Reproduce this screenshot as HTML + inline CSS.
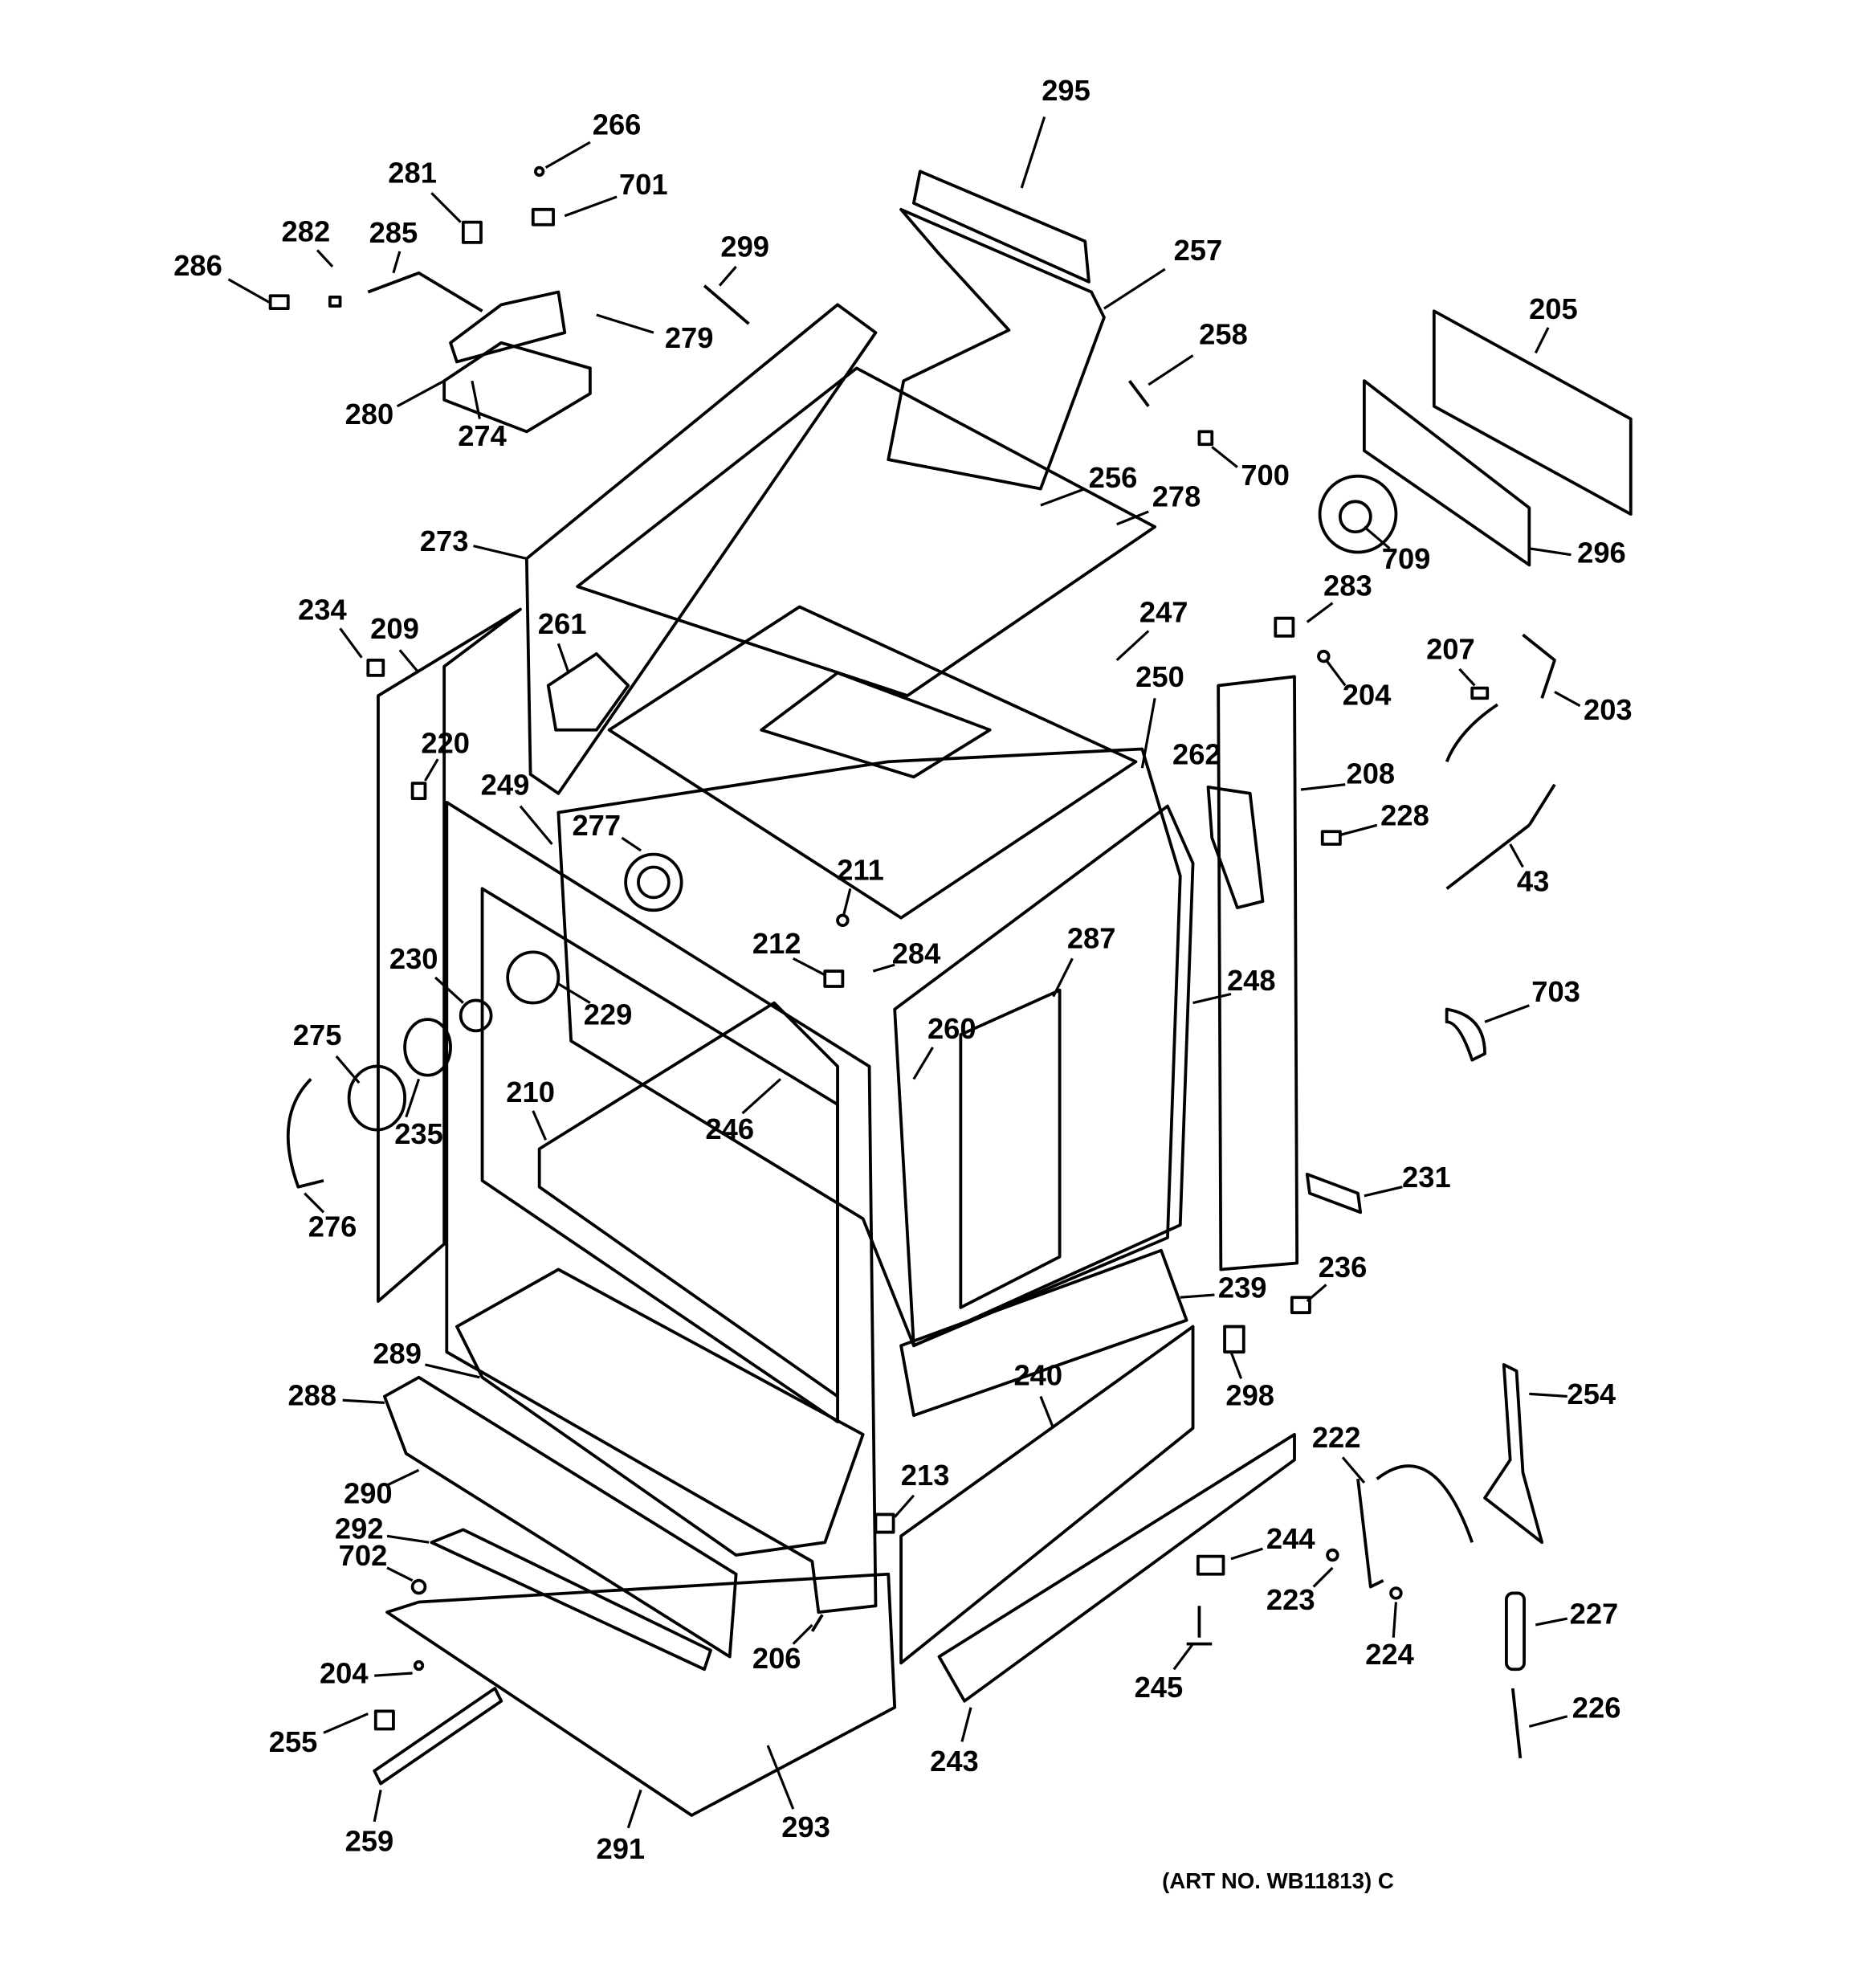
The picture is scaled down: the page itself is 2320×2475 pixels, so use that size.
<!DOCTYPE html>
<html><head><style>
html,body{margin:0;padding:0;background:#fff}
svg{display:block}
text{font-family:"Liberation Sans",Arial,sans-serif;font-weight:bold;font-size:23px;fill:#000;text-anchor:middle;dominant-baseline:middle}
.p{fill:none;stroke:#000;stroke-width:2.4;stroke-linejoin:round}
.l{stroke:#000;stroke-width:2}
</style></head><body>
<svg width="2320" height="2475" viewBox="0 0 1468 1566" xmlns="http://www.w3.org/2000/svg">
<polygon class="p" points="725,135 855,190 858,222 720,160"/>
<polygon class="p" points="710,165 860,230 870,250 820,385 700,362 712,300 795,260 740,200"/>
<polygon class="p" points="415,440 660,240 690,262 440,625 418,610"/>
<polygon class="p" points="455,462 675,290 910,415 715,548"/>
<polygon class="p" points="480,575 630,478 895,600 710,723"/>
<polygon class="p" points="600,575 660,530 780,575 720,612"/>
<polygon class="p" points="440,640 700,600 900,590 930,690 920,975 720,1060 680,960 450,820"/>
<polygon class="p" points="705,795 920,635 940,680 930,965 720,1060"/>
<polygon class="p" points="757,815 835,780 835,990 757,1030"/>
<polygon class="p" points="352,632 685,840 690,1265 645,1270 640,1230 352,1065"/>
<polygon class="p" points="380,700 660,870 660,1120 380,930"/>
<polygon class="p" points="425,905 610,790 660,840 660,1100 425,935"/>
<polygon class="p" points="960,540 1020,533 1022,995 962,1000"/>
<polygon class="p" points="298,548 410,480 350,525 350,980 298,1025"/>
<polygon class="p" points="360,1045 440,1000 680,1130 650,1215 580,1225 380,1085"/>
<polygon class="p" points="303,1100 330,1085 580,1240 575,1305 320,1145"/>
<polygon class="p" points="340,1215 365,1205 560,1300 555,1315"/>
<polygon class="p" points="305,1270 330,1262 700,1240 705,1345 545,1430"/>
<polygon class="p" points="710,1210 940,1045 940,1125 710,1310"/>
<polygon class="p" points="710,1060 915,985 935,1040 720,1115"/>
<polygon class="p" points="740,1305 1020,1130 1020,1150 760,1340"/>
<polygon class="p" points="295,1395 390,1330 395,1340 300,1405"/>
<polygon class="p" points="1130,245 1285,330 1285,405 1130,320"/>
<polygon class="p" points="1075,300 1205,400 1205,445 1075,355"/>
<circle class="p" cx="1070" cy="405" r="30"/><circle class="p" cx="1068" cy="407" r="12"/>
<circle class="p" cx="515" cy="695" r="22"/><circle class="p" cx="515" cy="695" r="12"/>
<circle class="p" cx="420" cy="770" r="20"/>
<circle class="p" cx="375" cy="800" r="12"/>
<ellipse class="p" cx="337" cy="825" rx="18" ry="22"/>
<ellipse class="p" cx="297" cy="865" rx="22" ry="25"/>
<path class="p" d="M245,850 Q215,880 235,935 L255,930"/>
<polygon class="p" points="952,620 985,625 995,710 975,715 955,660"/>
<polygon class="p" points="432,540 470,515 495,540 470,575 438,575"/>
<polygon class="p" points="355,270 395,240 440,230 445,262 360,285"/>
<polygon class="p" points="350,300 395,270 465,290 465,310 415,340 350,315"/>
<path class="p" d="M290,230 L330,215 L380,245"/>
<polygon class="p" points="1030,925 1070,940 1072,955 1032,940"/>
<path class="p" d="M1085,1165 Q1130,1130 1160,1215 M1070,1165 L1080,1250 L1090,1245"/>
<polygon class="p" points="1185,1075 1195,1080 1200,1160 1215,1215 1170,1180 1190,1150"/>
<rect class="p" x="1187" y="1255" width="14" height="60" rx="5"/>
<path class="p" d="M1192,1330 L1198,1385"/>
<path class="p" d="M1140,795 Q1170,800 1170,830 L1160,835 Q1150,805 1140,805 Z"/>
<path class="p" d="M1140,700 L1205,650 M1205,650 L1225,618"/>
<path class="p" d="M1200,500 L1225,520 L1215,550 M1180,555 Q1150,575 1140,600"/>
<rect class="p" x="213" y="233" width="14" height="10"/>
<rect class="p" x="260" y="234" width="8" height="7"/>
<rect class="p" x="365" y="175" width="14" height="16"/>
<rect class="p" x="420" y="165" width="16" height="12"/>
<circle class="p" cx="425" cy="135" r="3"/>
<path class="p" d="M555,225 L590,255"/>
<path class="p" d="M890,300 L905,320"/>
<rect class="p" x="945" y="340" width="10" height="10"/>
<rect class="p" x="1005" y="487" width="14" height="14"/>
<circle class="p" cx="1043" cy="517" r="4"/>
<rect class="p" x="1160" y="542" width="12" height="8"/>
<rect class="p" x="1042" y="655" width="14" height="10"/>
<rect class="p" x="290" y="520" width="12" height="12"/>
<rect class="p" x="325" y="617" width="10" height="12"/>
<rect class="p" x="965" y="1045" width="15" height="20"/>
<rect class="p" x="1018" y="1022" width="14" height="12"/>
<rect class="p" x="944" y="1226" width="20" height="14"/>
<path class="p" d="M945,1265 L945,1290 M935,1295 L955,1295"/>
<circle class="p" cx="1050" cy="1225" r="4"/><circle class="p" cx="1100" cy="1255" r="4"/>
<circle class="p" cx="330" cy="1250" r="5"/><circle class="p" cx="330" cy="1312" r="3"/>
<rect class="p" x="296" y="1348" width="14" height="14"/>
<rect class="p" x="690" y="1193" width="14" height="14"/>
<rect class="p" x="650" y="765" width="14" height="12"/>
<circle class="p" cx="664" cy="725" r="4"/>
<path class="p" d="M640,1285 L648,1272"/>
<g class="l">
<line x1="823" y1="92" x2="805" y2="148"/>
<line x1="465" y1="112" x2="430" y2="132"/>
<line x1="486" y1="155" x2="445" y2="170"/>
<line x1="340" y1="152" x2="363" y2="175"/>
<line x1="250" y1="197" x2="262" y2="210"/>
<line x1="315" y1="198" x2="310" y2="215"/>
<line x1="180" y1="220" x2="212" y2="238"/>
<line x1="580" y1="210" x2="567" y2="225"/>
<line x1="515" y1="262" x2="470" y2="248"/>
<line x1="313" y1="320" x2="350" y2="300"/>
<line x1="378" y1="330" x2="372" y2="300"/>
<line x1="918" y1="212" x2="870" y2="243"/>
<line x1="940" y1="280" x2="905" y2="303"/>
<line x1="975" y1="368" x2="955" y2="352"/>
<line x1="1220" y1="258" x2="1210" y2="278"/>
<line x1="855" y1="385" x2="820" y2="398"/>
<line x1="905" y1="403" x2="880" y2="413"/>
<line x1="1095" y1="432" x2="1075" y2="415"/>
<line x1="1238" y1="437" x2="1205" y2="432"/>
<line x1="373" y1="430" x2="415" y2="440"/>
<line x1="1050" y1="475" x2="1030" y2="490"/>
<line x1="905" y1="497" x2="880" y2="520"/>
<line x1="268" y1="495" x2="285" y2="518"/>
<line x1="315" y1="512" x2="330" y2="530"/>
<line x1="440" y1="507" x2="448" y2="530"/>
<line x1="910" y1="550" x2="900" y2="605"/>
<line x1="1060" y1="540" x2="1045" y2="520"/>
<line x1="1150" y1="527" x2="1162" y2="540"/>
<line x1="1245" y1="556" x2="1225" y2="545"/>
<line x1="345" y1="598" x2="335" y2="615"/>
<line x1="1060" y1="618" x2="1025" y2="622"/>
<line x1="1085" y1="650" x2="1055" y2="658"/>
<line x1="410" y1="635" x2="435" y2="665"/>
<line x1="490" y1="660" x2="505" y2="670"/>
<line x1="670" y1="700" x2="665" y2="720"/>
<line x1="1200" y1="683" x2="1190" y2="665"/>
<line x1="625" y1="755" x2="650" y2="768"/>
<line x1="705" y1="760" x2="688" y2="765"/>
<line x1="845" y1="755" x2="830" y2="785"/>
<line x1="343" y1="770" x2="365" y2="790"/>
<line x1="970" y1="783" x2="940" y2="790"/>
<line x1="465" y1="790" x2="440" y2="775"/>
<line x1="1205" y1="792" x2="1170" y2="805"/>
<line x1="265" y1="832" x2="283" y2="853"/>
<line x1="735" y1="825" x2="720" y2="850"/>
<line x1="420" y1="875" x2="430" y2="898"/>
<line x1="320" y1="880" x2="330" y2="850"/>
<line x1="585" y1="877" x2="615" y2="850"/>
<line x1="255" y1="955" x2="240" y2="940"/>
<line x1="1105" y1="935" x2="1075" y2="942"/>
<line x1="1045" y1="1012" x2="1030" y2="1025"/>
<line x1="957" y1="1020" x2="930" y2="1022"/>
<line x1="978" y1="1086" x2="970" y2="1065"/>
<line x1="335" y1="1075" x2="378" y2="1085"/>
<line x1="820" y1="1100" x2="830" y2="1125"/>
<line x1="270" y1="1103" x2="303" y2="1105"/>
<line x1="1235" y1="1100" x2="1205" y2="1098"/>
<line x1="1058" y1="1148" x2="1075" y2="1168"/>
<line x1="305" y1="1170" x2="330" y2="1158"/>
<line x1="720" y1="1178" x2="705" y2="1195"/>
<line x1="995" y1="1220" x2="970" y2="1228"/>
<line x1="305" y1="1210" x2="338" y2="1215"/>
<line x1="305" y1="1235" x2="325" y2="1245"/>
<line x1="1035" y1="1250" x2="1050" y2="1235"/>
<line x1="1235" y1="1275" x2="1210" y2="1280"/>
<line x1="625" y1="1295" x2="640" y2="1280"/>
<line x1="1098" y1="1290" x2="1100" y2="1262"/>
<line x1="295" y1="1320" x2="325" y2="1318"/>
<line x1="925" y1="1315" x2="940" y2="1295"/>
<line x1="1235" y1="1352" x2="1205" y2="1360"/>
<line x1="255" y1="1365" x2="290" y2="1350"/>
<line x1="758" y1="1372" x2="765" y2="1345"/>
<line x1="295" y1="1435" x2="300" y2="1410"/>
<line x1="625" y1="1425" x2="605" y2="1375"/>
<line x1="495" y1="1440" x2="505" y2="1410"/>
</g>
<text x="840" y="73">295</text><text x="486" y="100">266</text><text x="507" y="147">701</text>
<text x="325" y="138">281</text><text x="241" y="184">282</text><text x="310" y="185">285</text>
<text x="156" y="211">286</text><text x="587" y="196">299</text><text x="543" y="268">279</text>
<text x="291" y="328">280</text><text x="380" y="345">274</text><text x="944" y="199">257</text>
<text x="964" y="265">258</text><text x="997" y="376">700</text><text x="1224" y="245">205</text>
<text x="877" y="378">256</text><text x="927" y="393">278</text><text x="1108" y="442">709</text>
<text x="1262" y="437">296</text><text x="350" y="428">273</text><text x="1062" y="463">283</text>
<text x="917" y="484">247</text><text x="254" y="482">234</text><text x="311" y="497">209</text>
<text x="443" y="493">261</text><text x="914" y="535">250</text><text x="1077" y="549">204</text>
<text x="1143" y="513">207</text><text x="1267" y="561">203</text><text x="943" y="596">262</text>
<text x="351" y="587">220</text><text x="1080" y="611">208</text><text x="1107" y="644">228</text>
<text x="398" y="620">249</text><text x="470" y="652">277</text><text x="678" y="687">211</text>
<text x="1208" y="696">43</text><text x="612" y="745">212</text><text x="722" y="753">284</text>
<text x="860" y="741">287</text><text x="326" y="757">230</text><text x="986" y="774">248</text>
<text x="479" y="801">229</text><text x="1226" y="783">703</text><text x="250" y="817">275</text>
<text x="750" y="812">260</text><text x="418" y="862">210</text><text x="330" y="895">235</text>
<text x="575" y="891">246</text><text x="262" y="968">276</text><text x="1124" y="929">231</text>
<text x="1058" y="1000">236</text><text x="979" y="1016">239</text><text x="985" y="1101">298</text>
<text x="313" y="1068">289</text><text x="818" y="1085">240</text><text x="246" y="1101">288</text>
<text x="1254" y="1100">254</text><text x="1053" y="1134">222</text><text x="290" y="1178">290</text>
<text x="729" y="1164">213</text><text x="1017" y="1214">244</text><text x="283" y="1206">292</text>
<text x="286" y="1227">702</text><text x="1017" y="1262">223</text><text x="1256" y="1273">227</text>
<text x="612" y="1308">206</text><text x="1095" y="1305">224</text><text x="271" y="1320">204</text>
<text x="913" y="1331">245</text><text x="1258" y="1347">226</text><text x="231" y="1374">255</text>
<text x="752" y="1389">243</text><text x="291" y="1452">259</text><text x="635" y="1441">293</text>
<text x="489" y="1458">291</text>
<text x="1007" y="1483" style="font-size:17.5px">(ART NO. WB11813) C</text>
</svg>
</body></html>
